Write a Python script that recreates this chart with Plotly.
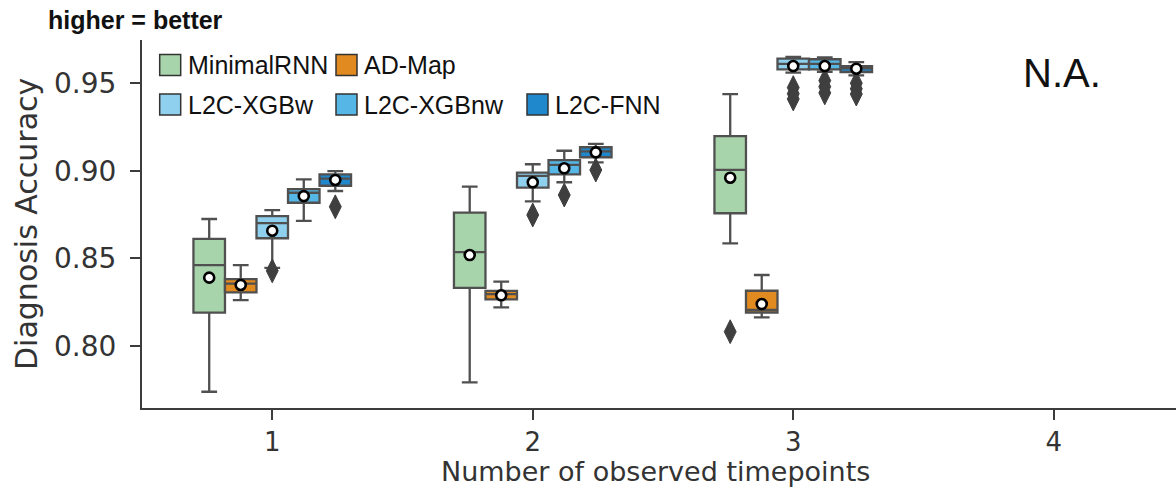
import plotly.graph_objects as go

# Number of observed timepoints (x positions) and the models compared at each
timepoints = [1, 2, 3]
tick_values = [1, 2, 3, 4]
models = ["MinimalRNN", "AD-Map", "L2C-XGBw", "L2C-XGBnw", "L2C-FNN"]
fill_colors = ["#a8d4ab", "#e08a1f", "#8fd0ee", "#56b7e6", "#1f88cc"]

# Box statistics per model (rows) at timepoints 1, 2, 3 (columns)
lower_whisker = [
    [0.7737, 0.7791, 0.8585],
    [0.8261, 0.8219, 0.8162],
    [0.8445, 0.8825, 0.9560],
    [0.8713, 0.8934, 0.9565],
    [0.8884, 0.9048, 0.9545],
]
q1 = [
    [0.8189, 0.8331, 0.8757],
    [0.8305, 0.8265, 0.8189],
    [0.8614, 0.8903, 0.9579],
    [0.8817, 0.8979, 0.9579],
    [0.8914, 0.9077, 0.9564],
]
median = [
    [0.8461, 0.8535, 0.9005],
    [0.8355, 0.8295, 0.8204],
    [0.8700, 0.8971, 0.9610],
    [0.8874, 0.9033, 0.9610],
    [0.8955, 0.9110, 0.9585],
]
q3 = [
    [0.8610, 0.8760, 0.9198],
    [0.8381, 0.8313, 0.8314],
    [0.8741, 0.8989, 0.9640],
    [0.8895, 0.9061, 0.9637],
    [0.8979, 0.9134, 0.9598],
]
upper_whisker = [
    [0.8724, 0.8909, 0.9438],
    [0.8460, 0.8366, 0.8404],
    [0.8775, 0.9037, 0.9650],
    [0.8951, 0.9114, 0.9648],
    [0.8998, 0.9153, 0.9621],
]
mean = [
    [0.8389, 0.8518, 0.8960],
    [0.8347, 0.8288, 0.8238],
    [0.8657, 0.8934, 0.9598],
    [0.8855, 0.9014, 0.9598],
    [0.8947, 0.9105, 0.9583],
]
# Outlying runs per model and timepoint
outliers = [
    [[], [], [0.8080]],
    [[], [], []],
    [[0.8428], [0.8747], [0.9475, 0.9440, 0.9410]],
    [[], [0.8861], [0.9515, 0.9480, 0.9445]],
    [[0.8794], [0.9004], [0.9500, 0.9468, 0.9438]],
]

# Layout geometry (pixels)
W, H = 1176, 488
ML, MR, MT, MB = 142, 0, 40, 80
PW, PH = W - ML - MR, H - MT - MB
X_RANGE = [0.5, 0.5 + PW / 260.5]
Y_RANGE = [0.7644, 0.9747]
BOX_STEP = 0.121
EDGE = "#505050"
AXIS = "#3c3c3c"
TEXT = "#333333"


def px_x(x):
    return (x - ML) / PW


def px_y(y):
    return (H - MB - y) / PH


fig = go.Figure()

for i, name in enumerate(models):
    offset = (i - 2) * BOX_STEP
    xs = [t + offset for t in timepoints]
    fig.add_trace(go.Box(
        name=name,
        x=xs,
        q1=q1[i], median=median[i], q3=q3[i],
        lowerfence=lower_whisker[i], upperfence=upper_whisker[i],
        width=BOX_STEP,
        whiskerwidth=0.5,
        fillcolor=fill_colors[i],
        line=dict(color=EDGE, width=2.3),
        boxpoints=False,
        showlegend=False,
    ))

for i, name in enumerate(models):
    offset = (i - 2) * BOX_STEP
    ox, oy = [], []
    for t, vals in zip(timepoints, outliers[i]):
        for v in vals:
            ox.append(t + offset)
            oy.append(v)
    if ox:
        fig.add_trace(go.Scatter(
            x=ox, y=oy, mode="markers", showlegend=False,
            marker=dict(symbol="diamond-tall", size=17, color="#3f3f3f",
                        line=dict(color="#3f3f3f", width=1)),
        ))

for i, name in enumerate(models):
    offset = (i - 2) * BOX_STEP
    fig.add_trace(go.Scatter(
        x=[t + offset for t in timepoints], y=mean[i], mode="markers",
        showlegend=False,
        marker=dict(symbol="circle", size=10, color="white",
                    line=dict(color="black", width=2.6)),
    ))

# Legend drawn as swatches plus labels, two rows
legend_rows = [
    [(0, 159.7, 65), (1, 336.0, 65)],
    [(2, 159.7, 104.5), (3, 336.0, 104.5), (4, 527.0, 104.5)],
]
shapes = []
annotations = []
SW = 21
for row in legend_rows:
    for idx, left, cy in row:
        shapes.append(dict(
            type="rect", xref="paper", yref="paper",
            x0=px_x(left), x1=px_x(left + SW),
            y0=px_y(cy + SW / 2), y1=px_y(cy - SW / 2),
            fillcolor=fill_colors[idx], line=dict(color="#333333", width=1.5),
        ))
        annotations.append(dict(
            text=models[idx], xref="paper", yref="paper",
            x=px_x(left + SW + 5), y=px_y(cy), xanchor="left", yanchor="middle",
            showarrow=False,
            font=dict(family="Liberation Sans, Arial", size=25, color="#111111"),
        ))

annotations += [
    dict(text="N.A.", xref="paper", yref="paper", x=px_x(1062), y=px_y(73),
         xanchor="center", yanchor="middle", showarrow=False,
         font=dict(family="Liberation Sans, Arial", size=40, color="#111111")),
    dict(text="<b>higher = better</b>", xref="paper", yref="paper",
         x=px_x(46), y=px_y(20), xanchor="left", yanchor="middle", showarrow=False,
         font=dict(family="Liberation Sans, Arial", size=25, color="#111111")),
    dict(text="Diagnosis Accuracy", xref="paper", yref="paper",
         x=px_x(26), y=0.5, xanchor="center", yanchor="middle", textangle=-90,
         showarrow=False, font=dict(family="DejaVu Sans", size=30, color=TEXT)),
    dict(text="Number of observed timepoints", xref="paper", yref="paper",
         x=px_x(655), y=px_y(472), xanchor="center", yanchor="middle",
         showarrow=False, font=dict(family="DejaVu Sans", size=27, color=TEXT)),
]

fig.update_layout(
    width=W, height=H,
    margin=dict(l=ML, r=MR, t=MT, b=MB, pad=0),
    paper_bgcolor="white", plot_bgcolor="white",
    boxmode="overlay",
    showlegend=False,
    shapes=shapes,
    annotations=annotations,
    xaxis=dict(
        range=X_RANGE, tickmode="array", tickvals=tick_values,
        ticktext=[str(t) for t in tick_values],
        showgrid=False, zeroline=False,
        showline=True, linecolor=AXIS, linewidth=2,
        ticks="outside", ticklen=10, tickwidth=2, tickcolor=AXIS,
        tickfont=dict(family="DejaVu Sans", size=26, color=TEXT),
    ),
    yaxis=dict(
        range=Y_RANGE, tickmode="array", tickvals=[0.80, 0.85, 0.90, 0.95],
        tickformat=".2f",
        showgrid=False, zeroline=False,
        showline=True, linecolor=AXIS, linewidth=2,
        ticks="outside", ticklen=10, tickwidth=2, tickcolor=AXIS,
        tickfont=dict(family="DejaVu Sans", size=28, color=TEXT),
        ticklabelstandoff=8,
    ),
)

fig.write_html("out.html")
